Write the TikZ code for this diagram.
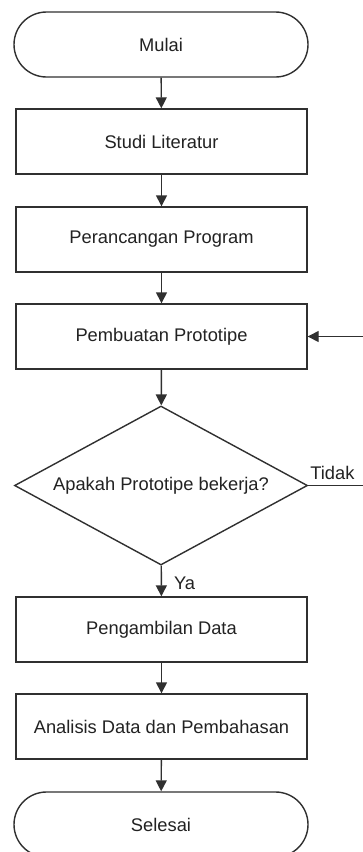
\documentclass[tikz,border=0pt]{standalone}
\usepackage{fontspec}
\setmainfont{Liberation Sans}
\usetikzlibrary{shapes.misc,shapes.geometric,arrows.meta}
\definecolor{ln}{HTML}{303030}
\definecolor{tx}{HTML}{222222}
\tikzset{
  base/.style={draw=ln, line width=1.4pt, text=tx, font=\fontsize{18.3}{22}\selectfont, inner sep=0pt},
  term/.style={base, rounded rectangle, minimum width=294pt, minimum height=65pt},
  proc/.style={base, rectangle, minimum width=291pt, minimum height=65pt},
  deci/.style={base, diamond, aspect=1.843, minimum width=293pt, minimum height=159pt},
  flow/.style={draw=ln, line width=1.4pt, -{Triangle[length=11pt,width=11pt]}},
  lbl/.style={text=tx, font=\fontsize{18.3}{22}\selectfont, inner sep=0pt}
}
\begin{document}
\begin{tikzpicture}[x=1pt,y=-1pt]
\useasboundingbox (0,0) rectangle (363,852);
\clip (0,0) rectangle (363,852);
\fill[white] (0,0) rectangle (363,852);
\node[term] (mulai) at (161,44.5) {Mulai};
\node[proc] (studi) at (161.5,141.5) {Studi Literatur};
\node[proc] (rancang) at (161.5,239.5) {Perancangan Program};
\node[proc] (buat) at (161.5,336.5) {Pembuatan Prototipe};
\node[deci] (cek) at (161,485.5) {Apakah Prototipe bekerja?};
\node[proc] (ambil) at (161.5,629.5) {Pengambilan Data};
\node[proc] (analisis) at (161.5,726.5) {Analisis Data dan Pembahasan};
\node[term] (selesai) at (161,824.5) {Selesai};
\coordinate (loopA) at (390,485.5);
\coordinate (loopB) at (390,336.5);
\draw[flow] (mulai) -- (studi);
\draw[flow] (studi) -- (rancang);
\draw[flow] (rancang) -- (buat);
\draw[flow] (buat) -- (cek);
\draw[flow] (cek) -- node[lbl, anchor=west, xshift=12pt, yshift=-2pt] (ya) {Ya} (ambil);
\draw[flow] (ambil) -- (analisis);
\draw[flow] (analisis) -- (selesai);
\draw[flow] (cek.east) -- (loopA) -- (loopB) -- (buat.east);
\node[lbl, anchor=south west] (tidak) at ([xshift=2pt,yshift=6pt]cek.east) {Tidak};
\end{tikzpicture}
\end{document}
